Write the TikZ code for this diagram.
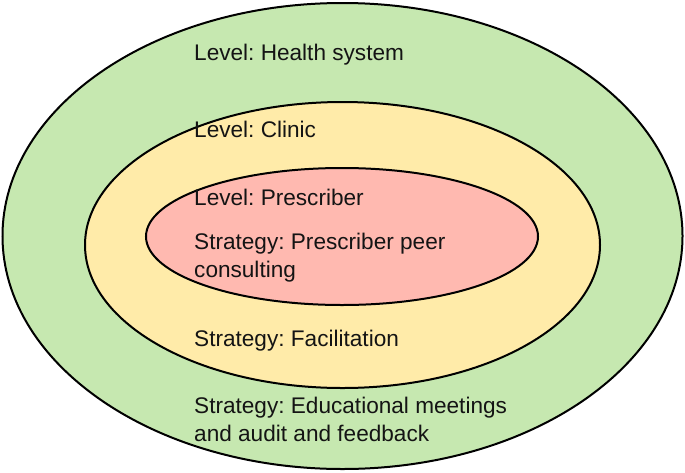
\documentclass[tikz,border=0pt]{standalone}
\usepackage{fontspec}
\setmainfont{Liberation Sans}
\usetikzlibrary{shapes.geometric}
\frenchspacing
\definecolor{ringgreen}{HTML}{C6E8B0}
\definecolor{ringyellow}{HTML}{FFEBA9}
\definecolor{ringpink}{HTML}{FFB9B0}
\tikzset{
  ring/.style={ellipse, draw=black, line width=2pt, inner sep=0pt},
  lbl/.style={anchor=base west, inner sep=0pt, align=left,
    font=\fontsize{22.6pt}{27.5pt}\selectfont, text=black!92}
}
\begin{document}
\begin{tikzpicture}[x=1pt,y=-1pt]
\useasboundingbox (0,0) rectangle (685,472);
\node[ring, fill=ringgreen, minimum width=680pt, minimum height=466pt] (outer) at (342.5,236) {};
\node[ring, fill=ringyellow, minimum width=515pt, minimum height=286pt] (middle) at (342.5,245) {};
\node[ring, fill=ringpink, minimum width=392pt, minimum height=137pt] (inner) at (342,236.5) {};
\node[lbl] (lhs) at (194,60) {Level: Health system};
\node[lbl] (lcl) at (194,137) {Level: Clinic};
\node[lbl] (lpr) at (194,205) {Level: Prescriber};
\node[lbl] (spr) at (194,277) {Strategy: Prescriber peer\\consulting};
\node[lbl] (sfa) at (194,346) {Strategy: Facilitation};
\node[lbl] (sed) at (194,441) {Strategy: Educational meetings\\and audit and feedback};
\end{tikzpicture}
\end{document}
